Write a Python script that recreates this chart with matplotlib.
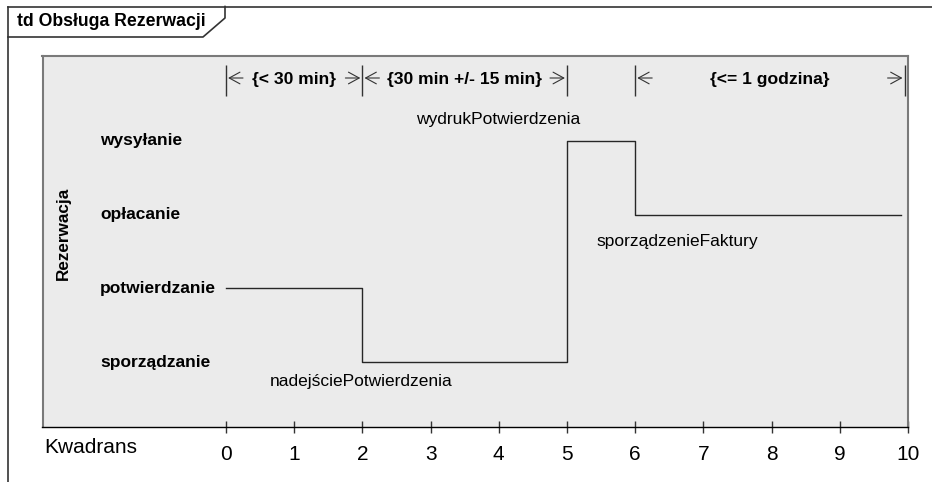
import matplotlib
matplotlib.use("Agg")
import matplotlib.pyplot as plt
from matplotlib.lines import Line2D

plt.rcParams['font.family'] = ['Liberation Sans', 'DejaVu Sans']

# data
title = "td Obsługa Rezerwacji"
lifeline = "Rezerwacja"
states = ["sporządzanie", "potwierdzanie", "opłacanie", "wysyłanie"]
change_times = [0, 2, 5, 6, 9.9]
change_states = [1, 0, 3, 2, 2]
ticks = list(range(11))
axis_name = "Kwadrans"

events = ["nadejściePotwierdzenia", "wydrukPotwierdzenia", "sporządzenieFaktury"]
event_times = [2, 5, 6]
event_states = [0, 3, 2]

constraints = ["{< 30 min}", "{30 min +/- 15 min}", "{<= 1 godzina}"]
constraint_start = [0, 2, 6]
constraint_end = [2, 5, 9.95]

# layout (pixels)
W, H = 932, 482
event_offsets = [(-1.5, -19), (-69, 21), (42, -27)]

fig = plt.figure(figsize=(W / 100, H / 100), dpi=100)
fig.patch.set_facecolor("white")

# outer diagram frame with name tab
frame = "#333333"
def fl(xs, ys, **kw):
    fig.add_artist(Line2D([x / W for x in xs], [1 - y / H for y in ys],
                          color=frame, lw=1.2, **kw))
fl([8, W], [6.5, 6.5])
fl([8, 8], [6.5, H])
fl([225, 225, 203, 8], [6.5, 18, 37, 37])
fig.text(17 / W, 1 - 22 / H, title, fontsize=12.7, fontweight="bold",
         va="center", ha="left")

left, right, top, bottom = 42.5, 908, 56, 427
ax = fig.add_axes([left / W, 1 - bottom / H, (right - left) / W, (bottom - top) / H])
ax.set_facecolor("#EBEBEB")
xs = 68.2
ax.set_xlim(-(226 - left) / xs, 10)
ys = 73.67
ax.set_ylim(-(bottom - 362) / ys, 3 + (141 - top) / ys)

def py(y):
    return 3 + (141 - y) / ys

for s in ["left", "top", "right"]:
    ax.spines[s].set_color("#7a7a7a")
    ax.spines[s].set_linewidth(1.5)
ax.spines["bottom"].set_color("black")
ax.spines["bottom"].set_linewidth(1.0)

ax.set_xticks(ticks)
ax.set_xticklabels([str(t) for t in ticks])
ax.tick_params(axis="x", direction="inout", length=8, width=1, color="#333333",
               labelsize=15, pad=9)
ax.set_yticks([])

# state labels
for i, s in enumerate(states):
    ax.text((100 - left) / (right - left), i, s, transform=ax.get_yaxis_transform(),
            fontsize=12.5, fontweight="bold", ha="left", va="center")
ax.text((63 - left) / (right - left), (bottom - 233) / (bottom - top), lifeline,
        transform=ax.transAxes, rotation=90, fontsize=12.3, fontweight="bold",
        ha="center", va="center")

# state line
ax.step(change_times, change_states, where="post", color="#262626", lw=1.0)

# event labels
for name, t, s, off in zip(events, event_times, event_states, event_offsets):
    ax.annotate(name, xy=(t, s), xytext=off, textcoords="offset pixels",
                fontsize=12.5, ha="center", va="center")

# duration constraints
bars = sorted(set(constraint_start + constraint_end))
ax.vlines(bars, py(96), py(65), color="#333333", lw=1.0)
ya = py(78)
for name, a, b in zip(constraints, constraint_start, constraint_end):
    ap = dict(arrowstyle="->,head_length=0.55,head_width=0.3", lw=0.8,
              color="#333333", shrinkA=0, shrinkB=1.5, mutation_scale=14)
    ax.annotate("", xy=(a, ya), xytext=(17, 0), textcoords="offset pixels", arrowprops=ap)
    ax.annotate("", xy=(b, ya), xytext=(-17, 0), textcoords="offset pixels", arrowprops=ap)
    ax.text((a + b) / 2, py(80), name, fontsize=12.6, fontweight="bold",
            ha="center", va="center")

fig.text(44 / W, 1 - 453 / H, axis_name, fontsize=15, ha="left", va="baseline")

fig.savefig("out.png", dpi=100)
